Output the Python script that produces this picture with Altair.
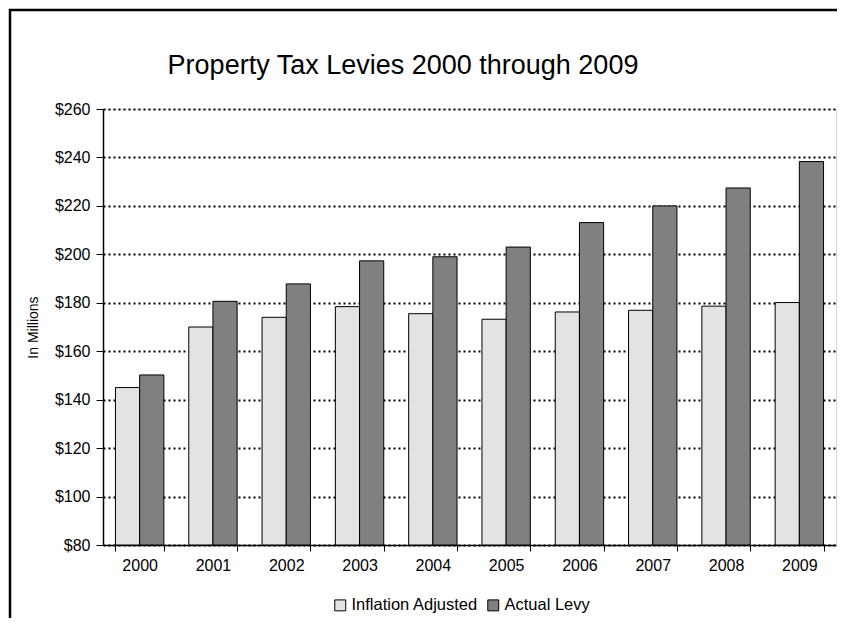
import altair as alt
import pandas as pd

years = ["2000", "2001", "2002", "2003", "2004", "2005", "2006", "2007", "2008", "2009"]
inflation_adjusted = [145.0, 170.0, 174.0, 178.4, 175.5, 173.2, 176.2, 176.9, 178.6, 180.1]
actual_levy = [150.2, 180.6, 187.8, 197.3, 199.0, 203.0, 213.1, 220.0, 227.4, 238.3]
series = ["Inflation Adjusted", "Actual Levy"]
colors = ["#e3e3e3", "#808080"]
y_ticks = [80, 100, 120, 140, 160, 180, 200, 220, 240, 260]
title_text = "Property Tax Levies 2000 through 2009"

rows = []
for i, y in enumerate(years):
    rows.append({"year": y, "series": series[0], "value": inflation_adjusted[i]})
    rows.append({"year": y, "series": series[1], "value": actual_levy[i]})
df = pd.DataFrame(rows)

W, H = 733, 436
FONT = "Liberation Sans"

bars = alt.Chart(df).mark_bar(stroke="black", strokeWidth=1).encode(
    x=alt.X("year:N", sort=years,
            scale=alt.Scale(paddingInner=0.34, paddingOuter=0.17),
            axis=alt.Axis(title=None, labelAngle=0, labelFontSize=16, labelFont=FONT,
                          labelColor="black", labelPadding=6,
                          tickBand="extent", ticks=True, tickSize=6, tickColor="black",
                          domainColor="black", domainWidth=1.5, grid=False)),
    xOffset=alt.XOffset("series:N", sort=series, scale=alt.Scale(paddingInner=0, paddingOuter=0)),
    y=alt.Y("value:Q",
            scale=alt.Scale(domain=[80, 260], nice=False, zero=False),
            axis=alt.Axis(title="In Millions", titleFontSize=14, titleFont=FONT,
                          titleFontWeight="normal", titleColor="black",
                          titleX=-70, titleY=H / 2, titleAlign="center", titleBaseline="middle",
                          values=y_ticks, format="$.0f",
                          labelFontSize=16, labelFont=FONT, labelColor="black", labelPadding=6,
                          tickSize=7, tickColor="black", domainColor="black", domainWidth=1.5,
                          grid=True, gridColor="black", gridDash=[2, 3], gridWidth=2)),
    y2=alt.datum(80),
    color=alt.Color("series:N", sort=series,
                    scale=alt.Scale(domain=series, range=colors),
                    legend=alt.Legend(title=None, orient="none", direction="horizontal",
                                      legendX=229, legendY=488,
                                      symbolType="square", symbolSize=120,
                                      symbolStrokeColor="black", symbolStrokeWidth=1,
                                      labelFontSize=16.5, labelFont=FONT, labelColor="black",
                                      labelOffset=3, columnPadding=6)),
)

title = alt.Chart(alt.Data(values=[{"t": title_text}])).mark_text(
    font=FONT, fontSize=27, color="black", align="center", baseline="alphabetic"
).encode(
    text="t:N", x=alt.value(300), y=alt.value(-35),
)

one = alt.Data(values=[{"a": 1}])
frame_top = alt.Chart(one).mark_rule(color="black", strokeWidth=2.5).encode(
    x=alt.value(-94), x2=alt.value(W + 1), y=alt.value(-99),
)
frame_left = alt.Chart(one).mark_rule(color="black", strokeWidth=2.5).encode(
    x=alt.value(-93), y=alt.value(-100), y2=alt.value(H + 73),
)

chart = alt.layer(bars, title, frame_top, frame_left).properties(
    width=W, height=H,
    autosize=alt.AutoSizeParams(type="none"),
    padding={"left": 95, "top": 101, "right": 1, "bottom": 73},
).configure_view(stroke=None).configure(background="white")

chart.save("out.html", embed_options={"renderer": "svg", "actions": False})
